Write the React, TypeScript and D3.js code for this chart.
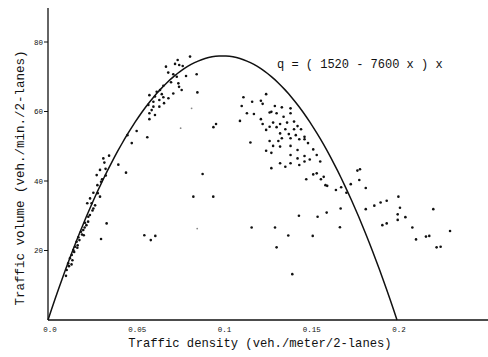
import React from "react";
import * as d3 from "d3";

// Model q = (A - B x) x
const COEF_A = 1520;
const COEF_B = 7600;

const xTicks = [0, 0.05, 0.1, 0.15, 0.2];
const xTickLabels = ["0.0", "0.05", "0.1", "0.15", "0.2"];
const yTicks = [20, 40, 60, 80];
const yTickLabels = ["20", "40", "60", "80"];

const xTitle = "Traffic density (veh./meter/2-lanes)";
const yTitle = "Traffic volume (veh./min./2-lanes)";
const formulaText = "q = ( 1520 - 7600 x ) x";

// [density, volume]
const freeFlowPoints: [number, number][] = [
  [0.0103, 12.7], [0.0107, 14.4], [0.0116, 16.3], [0.0126, 17.8], [0.0136, 18.7],
  [0.0145, 20.1], [0.0155, 21.1], [0.0164, 22.5], [0.0174, 23.8], [0.0189, 25.4],
  [0.0202, 25.9], [0.0212, 28.0], [0.0231, 29.7], [0.026, 32.1], [0.025, 33.6],
  [0.0225, 33.6], [0.0241, 35.0], [0.0298, 35.5], [0.026, 36.6], [0.0283, 38.8],
  [0.0304, 39.8], [0.0331, 41.6], [0.0279, 41.7], [0.0298, 43.2], [0.0403, 44.7],
  [0.0323, 45.3], [0.0317, 46.5], [0.035, 47.3], [0.012, 15.5], [0.014, 17.2],
  [0.015, 19.6], [0.017, 21.5], [0.018, 23.0], [0.0195, 24.6], [0.021, 26.6],
  [0.022, 27.3], [0.024, 30.2], [0.0255, 31.5], [0.027, 33.0], [0.0285, 36.5],
  [0.031, 40.5], [0.033, 43.5], [0.0135, 16.0], [0.0168, 20.8], [0.0205, 24.4],
  [0.023, 28.3],
];

const peakPoints: [number, number][] = [
  [0.0743, 74.8], [0.0814, 75.8], [0.0728, 73.7], [0.0752, 73.4], [0.0772, 73.1],
  [0.0676, 72.9], [0.0689, 71.2], [0.0718, 70.7], [0.0738, 70.0], [0.0791, 70.2],
  [0.0747, 68.1], [0.0705, 68.4], [0.0661, 67.4], [0.0751, 67.1], [0.0766, 66.2],
  [0.0642, 66.2], [0.0623, 65.7], [0.0652, 65.0], [0.0718, 65.2], [0.0581, 64.7],
  [0.0613, 64.3], [0.0661, 64.1], [0.069, 63.8], [0.0638, 63.3], [0.0604, 62.8],
  [0.0665, 62.4], [0.0575, 61.9], [0.0604, 61.4], [0.0638, 61.4], [0.0594, 60.4],
  [0.0581, 59.5], [0.0613, 59.0], [0.0581, 57.8], [0.0508, 54.4], [0.0569, 52.6],
  [0.048, 50.9], [0.0455, 53.2], [0.0852, 70.7], [0.0856, 65.5], [0.0963, 56.4],
  [0.0948, 55.5],
];

const congestedPoints: [number, number][] = [
  [0.112, 64.1], [0.125, 65.0], [0.117, 62.8], [0.122, 63.1], [0.123, 62.2],
  [0.111, 61.6], [0.130, 61.6], [0.134, 61.2], [0.139, 60.9], [0.127, 59.7],
  [0.128, 59.9], [0.114, 59.5], [0.118, 59.3], [0.131, 59.5], [0.135, 58.5],
  [0.139, 59.5], [0.122, 57.8], [0.110, 57.3], [0.123, 56.4], [0.129, 56.8],
  [0.133, 56.4], [0.137, 56.8], [0.141, 57.1], [0.127, 55.6], [0.131, 55.5],
  [0.143, 55.8], [0.125, 54.7], [0.136, 54.9], [0.141, 54.9], [0.145, 54.9],
  [0.133, 53.7], [0.138, 53.5], [0.142, 53.2], [0.147, 52.7], [0.116, 51.1],
  [0.127, 51.5], [0.132, 51.5], [0.134, 52.3], [0.139, 52.3], [0.144, 52.0],
  [0.147, 52.0], [0.149, 50.9], [0.129, 50.1], [0.133, 49.9], [0.139, 50.1],
  [0.125, 48.7], [0.128, 48.1], [0.143, 48.9], [0.152, 49.1], [0.139, 47.5],
  [0.143, 46.5], [0.147, 47.2], [0.150, 46.2], [0.154, 47.5], [0.133, 45.1],
  [0.136, 44.1], [0.139, 45.1], [0.144, 44.6], [0.147, 45.6], [0.156, 45.6],
  [0.128, 43.7], [0.148, 40.5], [0.152, 41.9], [0.154, 42.2], [0.158, 41.2],
  [0.160, 38.6], [0.165, 37.4], [0.168, 38.2], [0.171, 36.6], [0.1564, 40.5],
  [0.159, 38.8], [0.1735, 39.1], [0.1773, 43.0], [0.1788, 43.4], [0.1784, 40.3],
  [0.1821, 38.0],
];

const scatteredPoints: [number, number][] = [
  [0.1597, 30.9], [0.1545, 29.7], [0.1677, 32.1], [0.1673, 26.7], [0.1517, 24.2],
  [0.1821, 31.9], [0.187, 32.9], [0.1906, 33.8], [0.1941, 34.3], [0.2008, 35.5],
  [0.2017, 32.3], [0.2004, 30.4], [0.2048, 29.6], [0.2004, 28.8], [0.1916, 27.3],
  [0.1941, 27.8], [0.2088, 26.6], [0.2109, 23.2], [0.2166, 24.0], [0.2185, 24.2],
  [0.2208, 31.9], [0.2227, 20.9], [0.225, 21.1], [0.2304, 25.6], [0.1167, 26.6],
  [0.1301, 26.6], [0.1377, 24.3], [0.131, 20.9], [0.140, 13.2], [0.1438, 30.0],
  [0.0886, 42.0], [0.0833, 35.5], [0.0947, 35.5], [0.0552, 24.4], [0.0589, 23.0],
  [0.0615, 24.2], [0.0336, 27.8], [0.0304, 23.3], [0.0447, 42.4],
];

const faintPoints: [number, number][] = [
  [0.0823, 60.9], [0.076, 55.2], [0.0855, 26.3],
];

const W = 488;
const H = 357;
const FONT = "'Liberation Mono', 'DejaVu Sans Mono', monospace";
const INK = "#111";

export default function App() {
  const x = d3.scaleLinear().domain([0, 0.2]).range([48, 397]);
  const y = d3.scaleLinear().domain([0, 80]).range([320, 42]);

  const curveData = d3.range(0, 0.2 + 1e-9, 0.002).map((d) => [d, (COEF_A - COEF_B * d) * d]) as [number, number][];
  const line = d3
    .line<[number, number]>()
    .x((d) => x(d[0]))
    .y((d) => y(d[1]));

  const allPts = [...freeFlowPoints, ...peakPoints, ...congestedPoints, ...scatteredPoints];

  return (
    <svg
      width={W}
      height={H}
      style={{ position: "absolute", left: 0, top: 0, background: "#fff" }}
    >
      <rect width={W} height={H} fill="#fff" />
      <line x1={x(0)} x2={x(0)} y1={8} y2={y(0)} stroke={INK} strokeWidth={1.3} />
      <line x1={x(0)} x2={W} y1={y(0)} y2={y(0)} stroke={INK} strokeWidth={1.3} />
      {yTicks.map((t, i) => (
        <g key={t}>
          <line x1={x(0) - 4} x2={x(0)} y1={y(t)} y2={y(t)} stroke={INK} strokeWidth={1} />
          <text
            x={x(0) - 5}
            y={y(t) + 2.5}
            textAnchor="end"
            fontFamily={FONT}
            fontSize={7.5}
            fill={INK}
          >
            {yTickLabels[i]}
          </text>
        </g>
      ))}
      {xTicks.map((t, i) => (
        <text
          key={t}
          x={x(t) + 2}
          y={332}
          textAnchor="middle"
          fontFamily={FONT}
          fontSize={7.5}
          fill={INK}
        >
          {xTickLabels[i]}
        </text>
      ))}
      <path d={line(curveData) || ""} fill="none" stroke={INK} strokeWidth={1.5} />
      {allPts.map((p, i) => (
        <circle key={i} cx={x(p[0])} cy={y(p[1])} r={1.3} fill={INK} />
      ))}
      {faintPoints.map((p, i) => (
        <circle key={"f" + i} cx={x(p[0])} cy={y(p[1])} r={0.9} fill="#888" />
      ))}
      <text x={260} y={347} textAnchor="middle" fontFamily={FONT} fontSize={12.2} fill={INK}>
        {xTitle}
      </text>
      <text
        transform={`translate(24,178) rotate(-90)`}
        textAnchor="middle"
        fontFamily={FONT}
        fontSize={12.5}
        fill={INK}
      >
        {yTitle}
      </text>
      <text x={277} y={68} fontFamily={FONT} fontSize={12} fill={INK}>
        {formulaText}
      </text>
    </svg>
  );
}
